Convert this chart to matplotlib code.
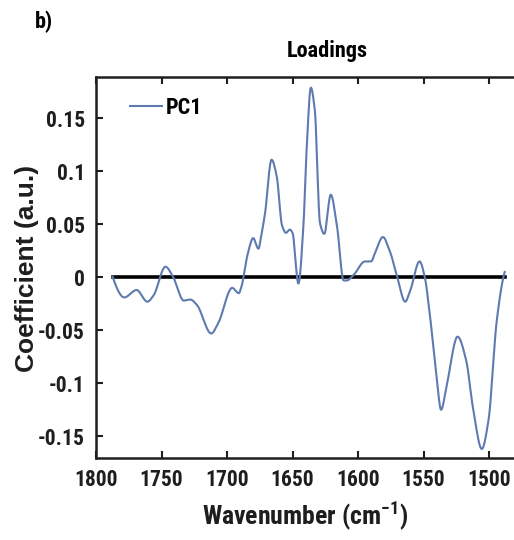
import matplotlib
matplotlib.use("Agg")
import matplotlib.pyplot as plt
import numpy as np
from matplotlib import font_manager

# PC1 loading spectrum (wavenumber in cm^-1, coefficient in a.u.)
wavenumber = [1787.3, 1778.4, 1769.0, 1760.8, 1756.0, 1747.0, 1741.0, 1733.0, 1728.0,
              1723.0, 1712.0, 1706.6, 1696.0, 1691.0, 1689.0, 1684.0, 1680.0, 1676.0,
              1673.5, 1671.0, 1666.0, 1662.0, 1658.0, 1655.0, 1652.0, 1650.0, 1645.5,
              1641.7, 1639.0, 1636.0, 1633.0, 1629.0, 1625.7, 1620.8, 1616.0, 1611.0,
              1608.6, 1603.5, 1594.6, 1590.0, 1587.0, 1581.0, 1575.5, 1570.0, 1564.0,
              1560.0, 1553.0, 1549.0, 1545.0, 1540.0, 1536.6, 1532.0, 1524.0, 1517.5,
              1512.0, 1505.5, 1500.4, 1494.0, 1488.0]
pc1 = [0.0006, -0.019, -0.012, -0.023, -0.017, 0.010, 0.000, -0.022, -0.021,
       -0.026, -0.053, -0.043, -0.010, -0.015, -0.009, 0.023, 0.037, 0.027,
       0.042, 0.060, 0.111, 0.095, 0.049, 0.042, 0.045, 0.042, -0.006,
       0.048, 0.126, 0.179, 0.158, 0.051, 0.041, 0.078, 0.048, -0.003,
       -0.003, 0.002, 0.015, 0.015, 0.023, 0.038, 0.024, 0.000, -0.023,
       -0.012, 0.015, 0.000, -0.037, -0.094, -0.125, -0.100, -0.056, -0.078,
       -0.125, -0.162, -0.135, -0.040, 0.005]

xticks = [1800, 1750, 1700, 1650, 1600, 1550, 1500]
yticks = [-0.15, -0.1, -0.05, 0, 0.05, 0.1, 0.15]
ytick_labels = ["-0.15", "-0.1", "-0.05", "0", "0.05", "0.1", "0.15"]

# pick a narrow bold sans face for the labels
installed = {f.name for f in font_manager.fontManager.ttflist}
narrow = "Liberation Sans"
for cand in ["Liberation Sans Narrow", "Arial Narrow", "Roboto Condensed",
             "Archivo Narrow", "Liberation Sans"]:
    if cand in installed:
        narrow = cand
        break

plt.rcParams["mathtext.fontset"] = "custom"
plt.rcParams["mathtext.rm"] = f"{narrow}:bold"
plt.rcParams["mathtext.bf"] = f"{narrow}:bold"
plt.rcParams["mathtext.default"] = "bf"

# smooth curve through the sampled loadings
x = np.array(wavenumber)[::-1]
y = np.array(pc1)[::-1]
try:
    from scipy.interpolate import PchipInterpolator
    xs = np.linspace(x[0], x[-1], 800)
    ys = PchipInterpolator(x, y)(xs)
except Exception:
    xs, ys = x, y

ink = "#1e1e1e"
fig = plt.figure(figsize=(5.14, 5.40), dpi=100)
ax = fig.add_axes([96/514, 81.7/540, 418/514, 381.6/540])

line_color = "#5f7ab0"
ax.plot([wavenumber[0], wavenumber[-1]], [0, 0], color="black", lw=2.6, zorder=2)
ax.plot(xs, ys, color=line_color, lw=1.5, label="PC1", zorder=3)

ax.set_xlim(1800, 1800 - 418/1.31)
ax.set_ylim(-0.1708, 0.1893)
ax.set_xticks(xticks)
ax.set_yticks(yticks)
ax.set_yticklabels(ytick_labels)
ax.tick_params(direction="in", length=5, width=1.5, top=True, right=False,
               labelsize=15.5, pad=8, colors=ink)
for lab in ax.get_xticklabels() + ax.get_yticklabels():
    lab.set_fontfamily(narrow)
    lab.set_fontweight("bold")
for side in ["left", "bottom", "top"]:
    ax.spines[side].set_linewidth(1.8)
    ax.spines[side].set_color(ink)
ax.spines["right"].set_visible(False)

ax.set_xlabel("Wavenumber (cm$^{-1}$)", fontsize=18.5, fontweight="bold",
              family=narrow, color=ink, labelpad=6)
fig.text(27/514, 1 - 268/540, "Coefficient (a.u.)", rotation=90, ha="center", va="center",
         fontsize=19, fontweight="bold", family="Liberation Sans", color=ink)
fig.text(327/514, 1 - 51/540, "Loadings", ha="center", va="center",
         fontsize=16, fontweight="bold", family=narrow, color="black")
fig.text(44/514, 1 - 22/540, "b)", ha="center", va="center",
         fontsize=16, fontweight="bold", family=narrow, color="black")

ax.legend(loc="upper left", frameon=False, handlelength=1.45, handletextpad=0.15,
          bbox_to_anchor=(0.033, 1.0),
          prop={"family": narrow, "weight": "bold", "size": 16})

fig.savefig("out.png", dpi=100)
